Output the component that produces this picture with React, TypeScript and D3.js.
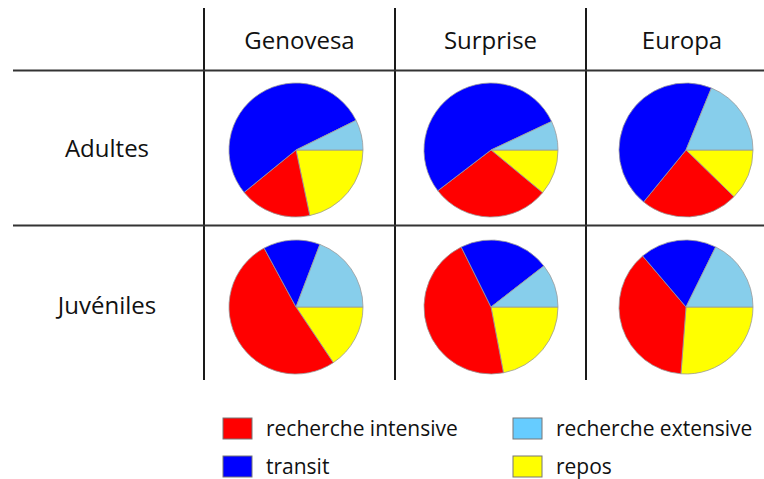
import React from "react";
import * as d3 from "d3";

const sites = ["Genovesa", "Surprise", "Europa"];
const ages = ["Adultes", "Juvéniles"];
const behaviours = ["repos", "recherche intensive", "transit", "recherche extensive"];
const pieColors = ["#FFFF00", "#FF0000", "#0000FF", "#87CEEB"];
const legendColors = ["#FFFF00", "#FF0000", "#0000FF", "#66CCFF"];

// values per behaviour order: repos, recherche intensive, transit, recherche extensive
const adultesGenovesa = [21.7, 17.4, 53.6, 7.3];
const adultesSurprise = [11.0, 28.6, 53.4, 7.0];
const adultesEuropa = [12.3, 23.6, 45.3, 18.8];
const juvenilesGenovesa = [15.6, 51.5, 13.7, 19.2];
const juvenilesSurprise = [22.0, 45.6, 21.8, 10.5];
const juvenilesEuropa = [26.2, 37.6, 18.5, 17.7];

const table = [
  [adultesGenovesa, adultesSurprise, adultesEuropa],
  [juvenilesGenovesa, juvenilesSurprise, juvenilesEuropa],
];

const legendOrder = [
  { name: "recherche intensive", idx: 1, col: 0, row: 0 },
  { name: "transit", idx: 2, col: 0, row: 1 },
  { name: "recherche extensive", idx: 3, col: 1, row: 0 },
  { name: "repos", idx: 0, col: 1, row: 1 },
];

export default function App() {
  const W = 764;
  const H = 479;
  const x = d3.scalePoint<string>().domain(sites).range([296, 686]);
  const y = d3.scalePoint<string>().domain(ages).range([150, 307]);
  const R = 67;
  const pie = d3
    .pie<number>()
    .sort(null)
    .startAngle(Math.PI / 2)
    .endAngle(Math.PI / 2 + 2 * Math.PI);
  const arc = d3.arc<d3.PieArcDatum<number>>().innerRadius(0).outerRadius(R);

  const vLines = [204, 395, 586];
  const hLines = [70.5, 225.5];
  const font = "'Open Sans', sans-serif";

  return (
    <svg
      width={W}
      height={H}
      style={{ position: "absolute", left: 0, top: 0, background: "#fff" }}
    >
      {vLines.map((vx) => (
        <line key={"v" + vx} x1={vx} x2={vx} y1={8} y2={380} stroke="#1a1a1a" strokeWidth={2} />
      ))}
      {hLines.map((hy) => (
        <line key={"h" + hy} x1={13} x2={W} y1={hy} y2={hy} stroke="#333" strokeWidth={2} />
      ))}
      {sites.map((s, i) => (
        <text
          key={s}
          x={(vLines[i] + (vLines[i + 1] ?? W)) / 2 - (i === 2 ? -7 : 0)}
          y={49}
          textAnchor="middle"
          fontFamily={font}
          fontSize={24}
          fill="#111"
        >
          {s}
        </text>
      ))}
      {ages.map((a) => (
        <text
          key={a}
          x={107}
          y={(y(a) ?? 0) + 7}
          textAnchor="middle"
          fontFamily={font}
          fontSize={24}
          fill="#111"
        >
          {a}
        </text>
      ))}
      {ages.map((a, r) =>
        sites.map((s, c) => (
          <g key={a + s} transform={`translate(${x(s)},${y(a)})`}>
            {pie(table[r][c]).map((d, k) => (
              <path key={k} d={arc(d) ?? ""} fill={pieColors[k]} stroke="#9a9a9a" strokeWidth={0.8} />
            ))}
          </g>
        ))
      )}
      {legendOrder.map((l) => {
        const lx = l.col === 0 ? 223 : 513;
        const ly = l.row === 0 ? 418 : 456;
        return (
          <g key={l.name}>
            <rect x={lx} y={ly} width={29} height={21} fill={legendColors[l.idx]} stroke="#777" strokeWidth={1} />
            <text x={lx + 43} y={ly + 18} fontFamily={font} fontSize={21} fill="#111">
              {l.name}
            </text>
          </g>
        );
      })}
    </svg>
  );
}
